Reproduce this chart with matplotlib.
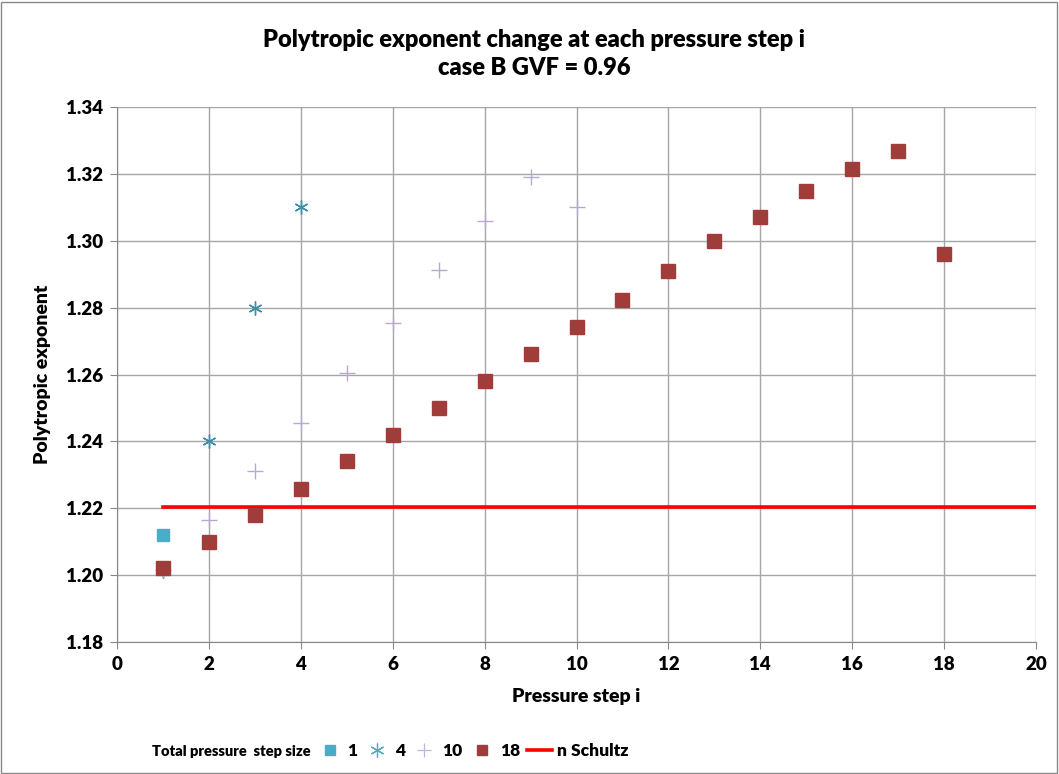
import matplotlib
matplotlib.use("Agg")
import matplotlib.pyplot as plt
from matplotlib.lines import Line2D

plt.rcParams['font.family'] = ['Lato', 'DejaVu Sans']
BW = 'heavy'

steps_1 = [1]
vals_1 = [1.212]
steps_4 = [1, 2, 3, 4]
vals_4 = [1.2012, 1.240, 1.280, 1.310]
steps_10 = [1, 2, 3, 4, 5, 6, 7, 8, 9, 10]
vals_10 = [1.2015, 1.2165, 1.231, 1.2455, 1.2604, 1.2754, 1.2912, 1.3059, 1.319, 1.310]
steps_18 = list(range(1, 19))
vals_18 = [1.2021, 1.2099, 1.218, 1.2257, 1.2341, 1.2419, 1.2500, 1.258, 1.2661,
           1.2742, 1.2822, 1.2909, 1.2999, 1.3071, 1.3148, 1.3214, 1.3268, 1.296]
schultz_x = [1, 20]
schultz_y = [1.2204, 1.2204]

W, H = 1059, 774
fig = plt.figure(figsize=(W / 100, H / 100), dpi=100)
ax = fig.add_axes([117 / W, 1 - 642 / H, (1036 - 117) / W, (642 - 107) / H])

ax.plot(schultz_x, schultz_y, color='#FF0000', lw=2.6, zorder=2, label='n Schultz')
ax.plot(steps_1, vals_1, ls='none', marker='s', ms=9, color='#4BACC6',
        mec='#4BACC6', zorder=3, label='1')
ax.plot(steps_4, vals_4, ls='none', marker=(6, 2, 0), ms=10, mew=1.0,
        color='#3E8EA6', zorder=3, label='4')
ax.plot(steps_10, vals_10, ls='none', marker='+', ms=11, mew=1.0,
        color='#B8A9CE', zorder=3, label='10')
ax.plot(steps_18, vals_18, ls='none', marker='s', ms=10, color='#A03D3B',
        mec='#A03D3B', zorder=4, label='18')

ax.set_xlim(0, 20)
ax.set_ylim(1.18, 1.34)
ax.set_xticks(range(0, 21, 2))
ax.set_yticks([1.18 + 0.02 * i for i in range(9)])
ax.set_yticklabels([f"{1.18 + 0.02 * i:.2f}" for i in range(9)])
ax.grid(True, color='#A6A6A6', lw=1.0)
ax.set_axisbelow(True)
for s in ['top', 'right']:
    ax.spines[s].set_visible(False)
for s in ['left', 'bottom']:
    ax.spines[s].set_color('#888888')
ax.tick_params(axis='both', length=5, color='#888888', labelsize=13.5, pad=5)
for lbl in ax.get_xticklabels() + ax.get_yticklabels():
    lbl.set_fontweight(BW)

ax.set_xlabel('Pressure step i', fontsize=14, fontweight=BW, labelpad=11)
ax.set_ylabel('Polytropic exponent', fontsize=14, fontweight=BW, labelpad=11)
fig.text(534 / W, 1 - 54 / H, 'Polytropic exponent change at each pressure step i\ncase B GVF = 0.96',
         ha='center', va='center', fontsize=17, fontweight=BW, linespacing=1.35)

fig.text(152 / W, 1 - 751 / H, 'Total pressure  step size', ha='left', va='center',
         fontsize=10.5, fontweight=BW)
handles = [
    Line2D([], [], ls='none', marker='s', ms=7, color='#4BACC6'),
    Line2D([], [], ls='none', marker=(6, 2, 0), ms=10, mew=0.9, color='#5AA7BC'),
    Line2D([], [], ls='none', marker='+', ms=10, mew=0.9, color='#C2B6D6'),
    Line2D([], [], ls='none', marker='s', ms=7, color='#A03D3B'),
    Line2D([], [], color='#FF0000', lw=2.6),
]
labels = ['1', '4', '10', '18', 'n Schultz']
leg = fig.legend(handles, labels, loc='center left', bbox_to_anchor=(317 / W, 1 - 751 / H),
                 ncol=5, frameon=False, fontsize=12.5, handlelength=1.45, handletextpad=0.3,
                 columnspacing=0.4, borderaxespad=0, borderpad=0)
for t in leg.get_texts():
    t.set_fontweight(BW)

fig.patches.append(plt.Rectangle((1 / W, 1 / H), 1 - 3 / W, 1 - 3 / H, transform=fig.transFigure,
                                 fill=False, ec='#888888', lw=1))

fig.savefig('out.png', dpi=100)
